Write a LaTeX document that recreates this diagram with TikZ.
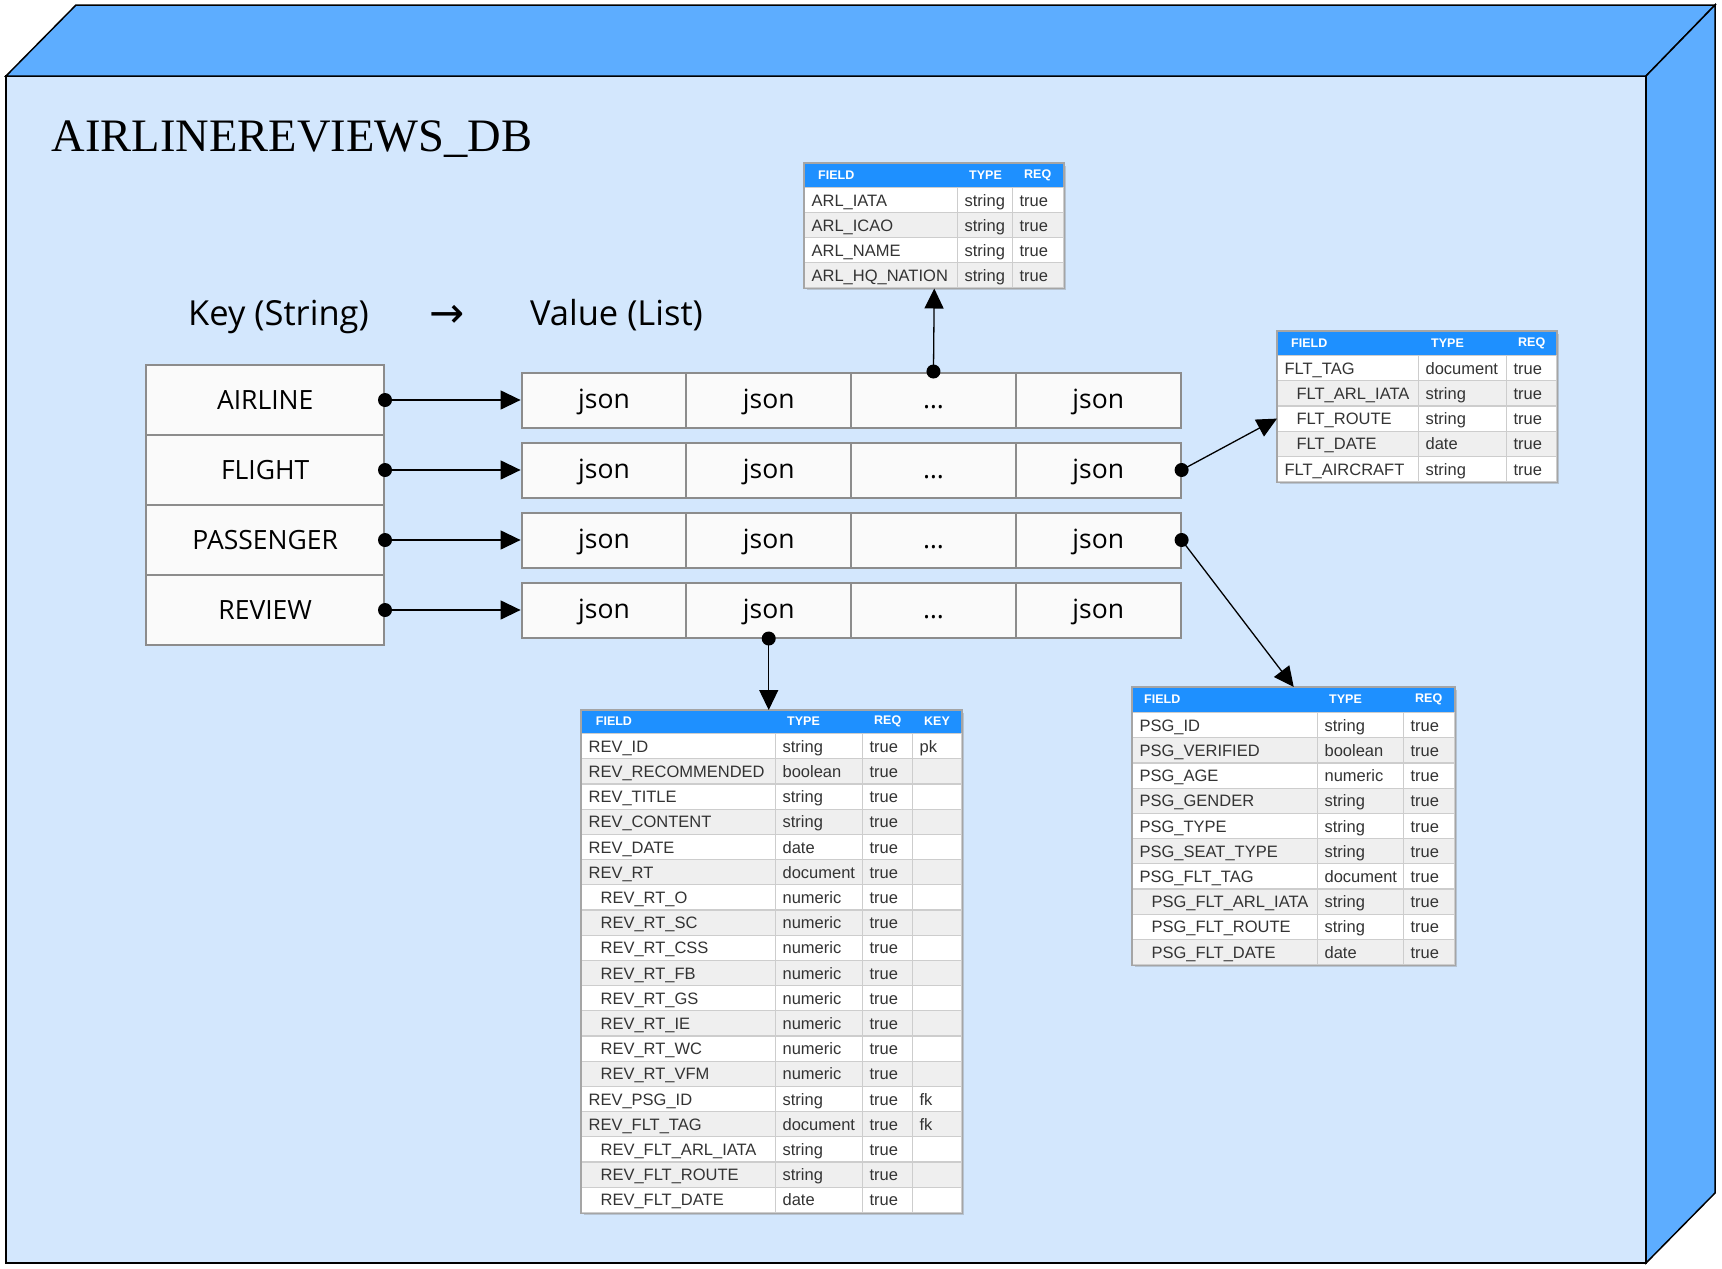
\documentclass[tikz,border=0pt]{standalone}
\usepackage{fontspec}
\setmainfont{Liberation Sans}
\newfontfamily\titlefont{Liberation Serif}
\newfontfamily\uifont{Open Sans}
\newfontfamily\arrowfont{DejaVu Sans}
\usetikzlibrary{arrows.meta}
\usetikzlibrary{shadows}

\definecolor{cubeside}{RGB}{93,173,255}
\definecolor{cubefront}{RGB}{211,231,253}
\definecolor{hdrblue}{RGB}{30,144,255}
\definecolor{altrow}{RGB}{239,239,239}
\definecolor{cellline}{RGB}{205,205,205}
\definecolor{tblborder}{RGB}{165,165,165}
\definecolor{txtgray}{RGB}{51,51,51}
\definecolor{boxfill}{RGB}{250,250,250}
\definecolor{boxline}{RGB}{140,140,140}

\tikzset{
    keybox/.style={draw=boxline, line width=2pt, fill=boxfill, minimum width=237.6pt, minimum height=70pt, inner sep=0pt, font=\uifont\fontsize{26.5}{30}\selectfont},
    jsoncell/.style={draw=boxline, line width=2pt, fill=boxfill, minimum width=164.75pt, minimum height=55pt, inner sep=0pt, text height=21pt, text depth=5pt, font=\uifont\fontsize{26.5}{30}\selectfont},
    heading/.style={anchor=base, inner sep=0pt, font=\uifont\fontsize{34.5}{38}\selectfont},
    tblframe/.style={draw=tblborder, fill=white, line width=1.5pt, anchor=north west, inner sep=0pt, drop shadow={shadow xshift=2pt, shadow yshift=-2pt, opacity=.35, fill=black!50}},
    hdr/.style={fill=hdrblue, anchor=north west, inner sep=0pt},
    hdrtxt/.style={anchor=west, inner sep=0pt, text=white, font=\bfseries\fontsize{12.5}{14}\selectfont},
    cell/.style={draw=cellline, line width=1.2pt, anchor=north west, minimum height=25.2pt, inner xsep=7pt, inner ysep=0pt, text height=13pt, text depth=1pt, align=left, text=txtgray, font=\fontsize{16.5}{19}\selectfont},
    dot/.style={circle, fill=black, inner sep=0pt, minimum size=14pt},
    link/.style={-{Triangle[length=20pt, width=19pt]}, line width=1.3pt},
}

\begin{document}
\begin{tikzpicture}[x=1pt, y=-1pt]
    \useasboundingbox (0,0) rectangle (1722,1269);
    \fill[white] (0,0) rectangle (1722,1269);

    \draw[fill=cubefront, line width=1.5pt] (6,76) rectangle (1646,1263);
    \draw[fill=cubeside, line width=1.5pt] (6,76) -- (76,5) -- (1715,5) -- (1646,76) -- cycle;
    \draw[fill=cubeside, line width=1.5pt] (1646,76) -- (1715,5) -- (1715,1193) -- (1646,1263) -- cycle;
    \node[anchor=base west, inner sep=0pt, font=\titlefont\fontsize{46.5}{50}\selectfont] (dbname) at (51.7,151.7) {AIRLINEREVIEWS\_DB};

    \node[heading] (keyhead) at (278.5,325) {Key (String)};
    \node[anchor=base, inner sep=0pt, font=\arrowfont\fontsize{42}{46}\selectfont] (maparrow) at (447.5,327) {→};
    \node[heading] (valhead) at (616.5,325) {Value (List)};

    \foreach \nm/\txt [count=\r] in {airline/AIRLINE, flight/FLIGHT, passenger/PASSENGER, review/REVIEW}{
        \node[keybox] (\nm) at (265.2,330+70*\r) {\txt};
        \foreach \c/\val in {1/json, 2/json, 3/\ldots, 4/json}{
            \node[jsoncell] (val\r-\c) at (439.225+164.75*\c,330+70*\r) {\val};
        }
    }

    % airline document
    \node[tblframe, minimum width=259pt, minimum height=124pt] (arl) at (804,163) {};
    \node[hdr, minimum width=259pt, minimum height=24pt] (arl-h) at (804,163) {};
    \node[hdrtxt] (arl-f) at (818,175) {FIELD};
    \node[hdrtxt] (arl-t) at (969,175) {TYPE};
    \node[hdrtxt] (arl-q) at (1024,175) {REQ};
    \foreach \fld/\typ/\req [count=\i] in {ARL\_IATA/string/true, ARL\_ICAO/string/true, ARL\_NAME/string/true, ARL\_HQ\_NATION/string/true}{
        \ifodd\i\def\rowfill{white}\else\def\rowfill{altrow}\fi
        \pgfmathsetmacro\yy{187+(\i-1)*25}
        \node[cell, fill=\rowfill, minimum height=25pt, text width=139pt] (arl-\i) at (804,\yy) {\fld};
        \node[cell, fill=\rowfill, minimum height=25pt, text width=41pt] (arl-\i t) at (957,\yy) {\typ};
        \node[cell, fill=\rowfill, minimum height=25pt, text width=37pt] (arl-\i q) at (1012,\yy) {\req};
    }
    \draw[tblborder, line width=1.5pt] (arl.north west) rectangle (arl.south east);

    % flight document
    \node[tblframe, minimum width=279pt, minimum height=150pt] (flt) at (1277,331) {};
    \node[hdr, minimum width=279pt, minimum height=24pt] (flt-h) at (1277,331) {};
    \node[hdrtxt] (flt-f) at (1291,343) {FIELD};
    \node[hdrtxt] (flt-t) at (1431,343) {TYPE};
    \node[hdrtxt] (flt-q) at (1518,343) {REQ};
    \foreach \fld/\typ/\req [count=\i] in {FLT\_TAG/document/true, {\hspace*{12pt}FLT\_ARL\_IATA}/string/true, {\hspace*{12pt}FLT\_ROUTE}/string/true, {\hspace*{12pt}FLT\_DATE}/date/true, FLT\_AIRCRAFT/string/true}{
        \ifodd\i\def\rowfill{white}\else\def\rowfill{altrow}\fi
        \pgfmathsetmacro\yy{355+(\i-1)*25.2}
        \node[cell, fill=\rowfill, text width=127pt] (flt-\i) at (1277,\yy) {\fld};
        \node[cell, fill=\rowfill, text width=74pt] (flt-\i t) at (1418,\yy) {\typ};
        \node[cell, fill=\rowfill, text width=36pt] (flt-\i q) at (1506,\yy) {\req};
    }
    \draw[tblborder, line width=1.5pt] (flt.north west) rectangle (flt.south east);

    % passenger document
    \node[tblframe, minimum width=322pt, minimum height=277pt] (psg) at (1132,687) {};
    \node[hdr, minimum width=322pt, minimum height=25pt] (psg-h) at (1132,687) {};
    \node[hdrtxt] (psg-f) at (1144,699.5) {FIELD};
    \node[hdrtxt] (psg-t) at (1329,699.5) {TYPE};
    \node[hdrtxt] (psg-q) at (1415,699.5) {REQ};
    \foreach \fld/\typ/\req [count=\i] in {PSG\_ID/string/true, PSG\_VERIFIED/boolean/true, PSG\_AGE/numeric/true, PSG\_GENDER/string/true, PSG\_TYPE/string/true, PSG\_SEAT\_TYPE/string/true, PSG\_FLT\_TAG/document/true, {\hspace*{12pt}PSG\_FLT\_ARL\_IATA}/string/true, {\hspace*{12pt}PSG\_FLT\_ROUTE}/string/true, {\hspace*{12pt}PSG\_FLT\_DATE}/date/true}{
        \ifodd\i\def\rowfill{white}\else\def\rowfill{altrow}\fi
        \pgfmathsetmacro\yy{712+(\i-1)*25.2}
        \node[cell, fill=\rowfill, text width=171pt] (psg-\i) at (1132,\yy) {\fld};
        \node[cell, fill=\rowfill, text width=72pt] (psg-\i t) at (1317,\yy) {\typ};
        \node[cell, fill=\rowfill, text width=37pt] (psg-\i q) at (1403,\yy) {\req};
    }
    \draw[tblborder, line width=1.5pt] (psg.north west) rectangle (psg.south east);

    % review document
    \node[tblframe, minimum width=380pt, minimum height=501.8pt] (rev) at (581,710) {};
    \node[hdr, minimum width=380pt, minimum height=23pt] (rev-h) at (581,710) {};
    \node[hdrtxt] (rev-f) at (595.7,721.5) {FIELD};
    \node[hdrtxt] (rev-t) at (787,721.5) {TYPE};
    \node[hdrtxt] (rev-q) at (874,721.5) {REQ};
    \node[hdrtxt] (rev-k) at (924,721.5) {KEY};
    \foreach \fld/\typ/\req/\kk [count=\i] in {REV\_ID/string/true/pk, REV\_RECOMMENDED/boolean/true/{}, REV\_TITLE/string/true/{}, REV\_CONTENT/string/true/{}, REV\_DATE/date/true/{}, REV\_RT/document/true/{}, {\hspace*{12pt}REV\_RT\_O}/numeric/true/{}, {\hspace*{12pt}REV\_RT\_SC}/numeric/true/{}, {\hspace*{12pt}REV\_RT\_CSS}/numeric/true/{}, {\hspace*{12pt}REV\_RT\_FB}/numeric/true/{}, {\hspace*{12pt}REV\_RT\_GS}/numeric/true/{}, {\hspace*{12pt}REV\_RT\_IE}/numeric/true/{}, {\hspace*{12pt}REV\_RT\_WC}/numeric/true/{}, {\hspace*{12pt}REV\_RT\_VFM}/numeric/true/{}, REV\_PSG\_ID/string/true/fk, REV\_FLT\_TAG/document/true/fk, {\hspace*{12pt}REV\_FLT\_ARL\_IATA}/string/true/{}, {\hspace*{12pt}REV\_FLT\_ROUTE}/string/true/{}, {\hspace*{12pt}REV\_FLT\_DATE}/date/true/{}}{
        \ifodd\i\def\rowfill{white}\else\def\rowfill{altrow}\fi
        \pgfmathsetmacro\yy{733+(\i-1)*25.2}
        \node[cell, fill=\rowfill, text width=180pt] (rev-\i) at (581,\yy) {\fld};
        \node[cell, fill=\rowfill, text width=73pt] (rev-\i t) at (775,\yy) {\typ};
        \node[cell, fill=\rowfill, text width=36pt] (rev-\i q) at (862,\yy) {\req};
        \node[cell, fill=\rowfill, text width=35pt] (rev-\i k) at (912,\yy) {\kk};
    }
    \draw[tblborder, line width=1.5pt] (rev.north west) rectangle (rev.south east);

    \foreach \nm [count=\r] in {airline, flight, passenger, review}{
        \draw[link] (\nm.east) -- (val\r-1.west);
        \node[dot] (dot-\nm) at (\nm.east) {};
    }
    \draw[link] (val1-3.north) -- (arl.south);
    \node[dot] (dot-arl) at (val1-3.north) {};
    \draw[link] (val2-4.east) -- (flt-3.west);
    \node[dot] (dot-flt) at (val2-4.east) {};
    \draw[link] (val3-4.east) -- (psg.north);
    \node[dot] (dot-psg) at (val3-4.east) {};
    \draw[link] (val4-2.south) -- (val4-2.south |- rev.north);
    \node[dot] (dot-rev) at (val4-2.south) {};
\end{tikzpicture}
\end{document}
